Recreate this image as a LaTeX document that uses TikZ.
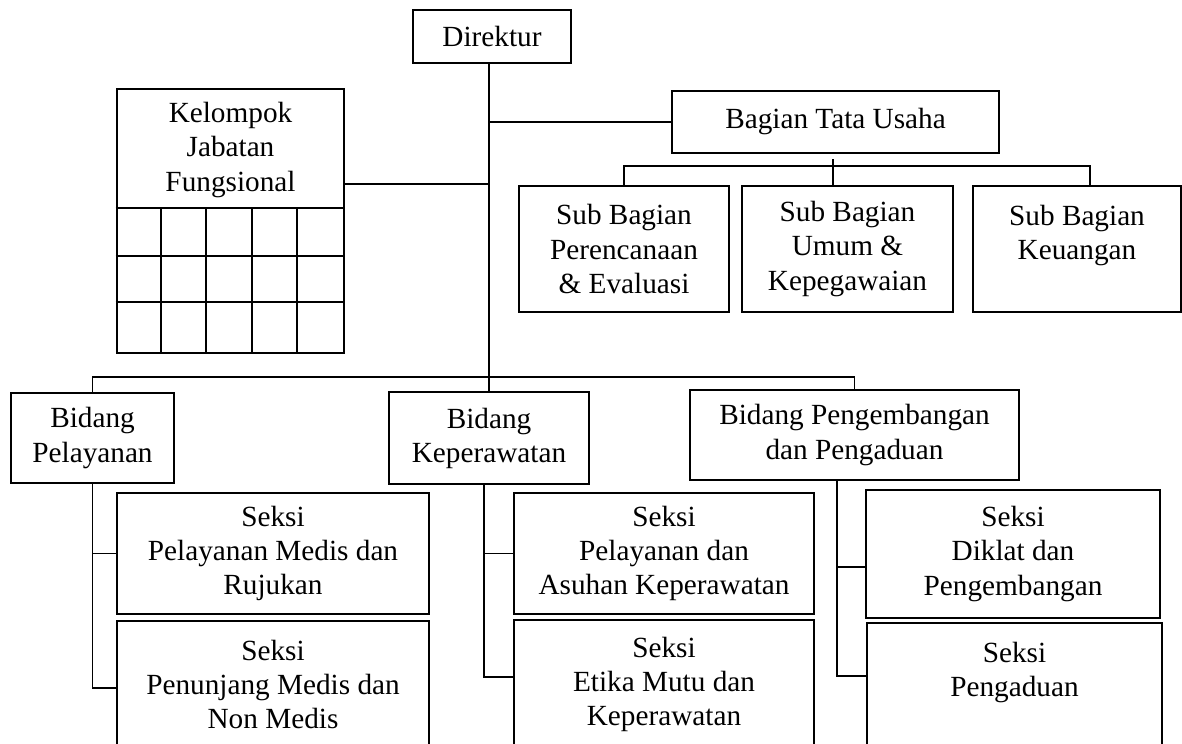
\documentclass[tikz,border=0pt]{standalone}
\usepackage{fontspec}
\setmainfont{Liberation Serif}
\usetikzlibrary{positioning}

\begin{document}
\begin{tikzpicture}[
   x=0.025cm,y=-0.025cm,
   box/.style={draw,line width=1.8pt,align=center,inner sep=0pt,font=\fontsize{20.8}{24.2}\selectfont},
   sz/.style 2 args={minimum width=#1*0.025cm,minimum height=#2*0.025cm},
   link/.style={line width=0.85pt}]
  \clip (0,0) rectangle (1182,743);
  % pimpinan
  \node[box,sz={158}{53}] (dir) at (492,36.5) {Direktur};
  \node[box,sz={227}{264}] (kjf) at (230.5,221) {};
  \node[align=center,inner sep=0pt,font=\fontsize{20.8}{24.2}\selectfont] (kjft) at (230.5,150) {Kelompok\\Jabatan\\Fungsional};
  \foreach \y in {208,256,302}
    \draw[link] (kjf.west |- 0,\y) -- (kjf.east |- 0,\y);
  \foreach \x in {161,206,252,297}
    \draw[link] (\x,208) -- (\x,353);
  % tata usaha
  \node[box,sz={327}{62}] (btu) at (835.5,122) {Bagian Tata Usaha};
  \node[box,sz={210}{126}] (sb1) at (624,249) {Sub Bagian\\Perencanaan\\\& Evaluasi};
  \node[box,sz={211}{126}] (sb2) at (847.5,249) {Sub Bagian\\Umum \&\\Kepegawaian};
  \node[box,sz={208}{126}] (sb3) at (1077,249) {Sub Bagian\\Keuangan\\~};
  % bidang
  \node[box,sz={163}{90}] (bp) at (92.5,438) {Bidang\\Pelayanan};
  \node[box,sz={200}{92}] (bk) at (489,438) {Bidang\\Keperawatan};
  \node[box,sz={329}{90}] (bpp) at (854.5,435) {Bidang Pengembangan\\dan Pengaduan};
  % seksi
  \node[box,sz={312}{121}] (spm) at (273,553.5) {Seksi\\Pelayanan Medis dan\\Rujukan};
  \node[box,sz={312}{127}] (spn) at (273,684.5) {Seksi\\Penunjang Medis dan\\Non Medis};
  \node[box,sz={300}{121}] (spa) at (664,553.5) {Seksi\\Pelayanan dan\\Asuhan Keperawatan};
  \node[box,sz={300}{128}] (sem) at (664,684) {Seksi\\Etika Mutu dan\\Keperawatan};
  \node[box,sz={294}{128}] (sdp) at (1013,554) {Seksi\\Diklat dan\\Pengembangan};
  \node[box,sz={295}{127}] (spg) at (1014.5,686.5) {Seksi\\Pengaduan\\~};

  \coordinate (tu) at (833,166);
  \coordinate (tuR) at (1090,166);
  \coordinate (bar) at (489,377);
  \coordinate (kk) at (484,0);
  \coordinate (pp) at (837,0);

  \draw[link] (dir.south -| bk.north) -- (bk.north);
  \draw[link] (kjf.east |- 0,184) -- (bk.north |- 0,184);
  \draw[link] (btu.west) -- (btu.west -| bk.north);
  \draw[link] (tu |- btu.south) ++(0,5) -- (tu) -- (tu |- sb2.north);
  \draw[link] (sb1.north) |- (tuR) -- (tuR |- sb3.north);
  \draw[link] (bp.north) |- (bar) -| (bpp.north);
  \draw[link] (bp.south) |- (spn.west |- 0,688);
  \draw[link] (bp.south |- spm.west) -- (spm.west);
  \draw[link] (kk |- bk.south) |- (sem.west |- 0,677);
  \draw[link] (kk |- spa.west) -- (spa.west);
  \draw[link] (pp |- bpp.south) |- (spg.west |- 0,676);
  \draw[link] (pp |- 0,567) -- (sdp.west |- 0,567);
\end{tikzpicture}
\end{document}
